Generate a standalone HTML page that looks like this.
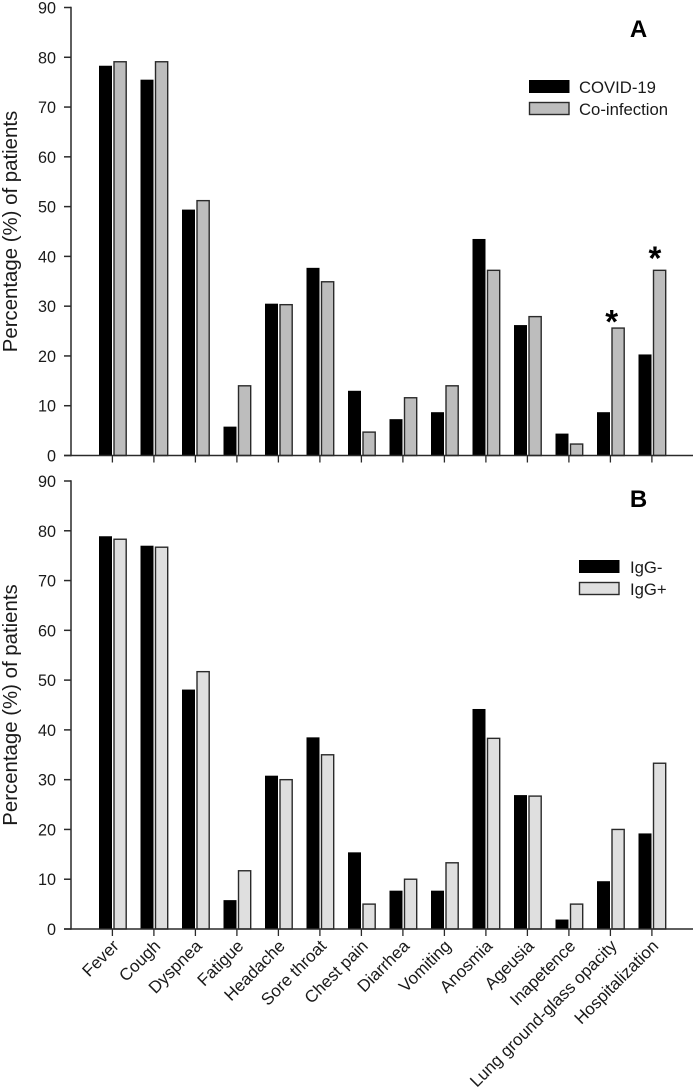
<!DOCTYPE html>
<html>
<head>
<meta charset="utf-8">
<style>
html,body{margin:0;padding:0;background:#fff;}
svg{display:block;font-family:"Liberation Sans",sans-serif;fill:#1a1a1a;}
</style>
</head>
<body>
<svg id="chart" xmlns="http://www.w3.org/2000/svg" width="696" height="1089" viewBox="0 0 696 1089"></svg>
<script>
const categories = ["Fever","Cough","Dyspnea","Fatigue","Headache","Sore throat","Chest pain","Diarrhea","Vomiting","Anosmia","Ageusia","Inapetence","Lung ground-glass opacity","Hospitalization"];
const yTicks = [0,10,20,30,40,50,60,70,80,90];
const covidValues = [78.3,75.5,49.4,5.8,30.5,37.7,13,7.3,8.7,43.5,26.2,4.4,8.7,20.3];
const coinfectionValues = [79.1,79.1,51.2,14,30.3,34.9,4.7,11.6,14,37.2,27.9,2.3,25.6,37.2];
const iggNegValues = [78.9,77,48.1,5.8,30.8,38.5,15.4,7.7,7.7,44.2,26.9,1.9,9.6,19.2];
const iggPosValues = [78.3,76.7,51.7,11.7,30,35,5,10,13.3,38.3,26.7,5,20,33.3];
const significantCategories = ["Lung ground-glass opacity","Hospitalization"];

const svg = document.getElementById('chart');
const NS = 'http://www.w3.org/2000/svg';
const ink = '#2a2a2a';

function make(tag, attrs, text) {
  const el = document.createElementNS(NS, tag);
  for (const k in attrs) el.setAttribute(k, attrs[k]);
  if (text !== undefined) el.textContent = text;
  svg.appendChild(el);
  return el;
}
function xPos(i) { return 112.4 + i * 41.5; }
function slug(s) { return s.toLowerCase().replace(/[^a-z0-9]+/g, '-'); }

function drawPanel(cfg) {
  const yScale = v => cfg.y0 - (v / 90) * 448;

  cfg.seriesB.forEach((v, i) => {
    const top = yScale(v);
    const bar = make('rect', {x: xPos(i) + 1.6, y: top, width: 12.2, height: cfg.y0 - top, fill: cfg.fillB, stroke: ink, 'stroke-width': 1.4});
    
    
  });
  cfg.seriesA.forEach((v, i) => {
    const top = yScale(v);
    const bar = make('rect', {x: xPos(i) - 13.4, y: top, width: 13, height: cfg.y0 - top, fill: '#000'});
    
    
  });

  const yAxis = make('line', {x1: 71, x2: 71, y1: yScale(90) - 0.7, y2: cfg.y0 + 0.7, stroke: ink, 'stroke-width': 1.5});
  
  

  const xAxis = make('line', {x1: 64, x2: 693, y1: cfg.y0, y2: cfg.y0, stroke: ink, 'stroke-width': 1.5});
  
  

  yTicks.forEach(t => {
    const y = yScale(t);
    const tick = make('line', {x1: 64, x2: 71, y1: y, y2: y, stroke: ink, 'stroke-width': 1.5});
    
    
    const label = make('text', {x: 56, y: y + 6, 'text-anchor': 'end', 'font-size': 16.2}, String(t));
    
    
  });

  categories.forEach((c, i) => {
    const tick = make('line', {x1: xPos(i), x2: xPos(i), y1: cfg.y0, y2: cfg.y0 + 7, stroke: ink, 'stroke-width': 1.3});
    
    
  });

  const tx = 17, ty = (yScale(90) + cfg.y0) / 2;
  const title = make('text', {x: tx, y: ty, transform: 'rotate(-90 ' + tx + ' ' + ty + ')', 'text-anchor': 'middle', 'font-size': 20.4}, 'Percentage (%) of patients');
  
  

  const letter = make('text', {x: 638.5, y: cfg.letterY, 'text-anchor': 'middle', 'font-size': 24, 'font-weight': 'bold', fill: '#000'}, cfg.letter);
  
  

  const swatchA = make('rect', {x: cfg.legX, y: cfg.legY, width: 40.5, height: 13, fill: '#000'});
  
  
  const legTextA = make('text', {x: cfg.legTextX, y: cfg.legY + 13, 'font-size': 16.7}, cfg.nameA);
  
  
  const swatchB = make('rect', {x: cfg.legX + 0.5, y: cfg.legY + 22.5, width: 39.5, height: 12, fill: cfg.fillB, stroke: ink, 'stroke-width': 1.4});
  
  
  const legTextB = make('text', {x: cfg.legTextX, y: cfg.legY + 35, 'font-size': 16.7}, cfg.nameB);
  
  
}

drawPanel({key: 'panel-a', letter: 'A', letterY: 37, y0: 455.5, seriesA: covidValues, seriesB: coinfectionValues, nameA: 'COVID-19', nameB: 'Co-infection', fillB: '#bdbdbd', legX: 529, legY: 80, legTextX: 579});
drawPanel({key: 'panel-b', letter: 'B', letterY: 507, y0: 929, seriesA: iggNegValues, seriesB: iggPosValues, nameA: 'IgG-', nameB: 'IgG+', fillB: '#dfdfdf', legX: 579, legY: 560, legTextX: 630});

significantCategories.forEach((c, n) => {
  const i = categories.indexOf(c);
  const top = 455.5 - (coinfectionValues[i] / 90) * 448;
  const star = make('text', {x: xPos(i) + (n === 0 ? 1.3 : 3), y: top + (n === 0 ? 5 : -1), 'text-anchor': 'middle', 'font-size': 33, 'font-weight': 'bold', fill: '#000'}, '*');
  
  
});

categories.forEach((c, i) => {
  const lx = xPos(i) + 7.5, ly = 947;
  const label = make('text', {x: lx, y: ly, transform: 'rotate(-45 ' + lx + ' ' + ly + ')', 'text-anchor': 'end', 'font-size': 17}, c);
  
  
});
</script>
</body>
</html>
